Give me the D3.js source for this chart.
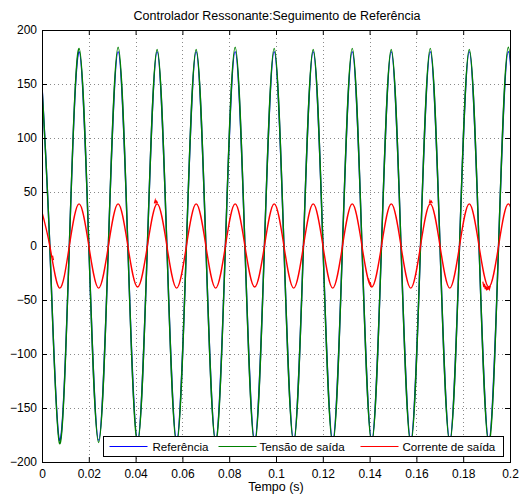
<!DOCTYPE html>
<html>
<head>
<meta charset="utf-8">
<script src="https://cdn.jsdelivr.net/npm/d3@7"></script>
<style>
  body { margin: 0; background: #fff; }
  text { font-family: "Liberation Sans", Arial, Helvetica, sans-serif; font-size: 12px; fill: #000; }
</style>
</head>
<body>
<svg width="519" height="497"></svg>
<script>
const svg = d3.select("svg");
const width = +svg.attr("width");
const height = +svg.attr("height");

// plot box (pixels)
const boxLeft = 42, boxRight = 510, boxTop = 30, boxBottom = 462;

// data: quarter-period samples (peak, zero, trough, zero ...)
const tempo = [-0.00083, 0.00334, 0.00751, 0.01168, 0.01585, 0.02002, 0.02419, 0.02836,
  0.03253, 0.03669, 0.04086, 0.04503, 0.04920, 0.05337, 0.05754, 0.06171,
  0.06588, 0.07004, 0.07421, 0.07838, 0.08255, 0.08672, 0.09089, 0.09506,
  0.09923, 0.10339, 0.10756, 0.11173, 0.11590, 0.12007, 0.12424, 0.12841,
  0.13258, 0.13674, 0.14091, 0.14508, 0.14925, 0.15342, 0.15759, 0.16176,
  0.16593, 0.17009, 0.17426, 0.17843, 0.18260, 0.18677, 0.19094, 0.19511,
  0.19928, 0.20344];

const referencia = [180, 0, -180, 0, 180, 0, -180, 0,
  180, 0, -180, 0, 180, 0, -180, 0,
  180, 0, -180, 0, 180, 0, -180, 0,
  180, 0, -180, 0, 180, 0, -180, 0,
  180, 0, -180, 0, 180, 0, -180, 0,
  180, 0, -180, 0, 180, 0, -180, 0,
  180, 0];

const tensao = [178, 0, -183, 0, 183, 0, -182, 0,
  184, 0, -182, 0, 182, 0, -183, 0,
  182, 0, -182, 0, 184, 0, -183, 0,
  183, 0, -182, 0, 182, 0, -183, 0,
  183, 0, -182, 0, 182, 0, -183, 0,
  183, 0, -182, 0, 182, 0, -183, 0,
  184, 0];

const corrente = [38, 0, -39, 0, 39, 0, -39, 0,
  39, 0, -38, 0, 39, 0, -39, 0,
  39, 0, -39, 0, 39, 0, -38, 0,
  39, 0, -39, 0, 39, 0, -39, 0,
  39, 0, -38, 0, 39, 0, -39, 0,
  39, 0, -39, 0, 39, 0, -38, 0,
  39, 0];

// small noisy bits on the current trace
const ruido = [
  [[0.0480, 39.5], [0.0484, 42.5], [0.0487, 40], [0.0490, 41.5], [0.0494, 39.5]],
  [[0.1655, 39.5], [0.1658, 42], [0.1661, 40.5], [0.1664, 41.5], [0.1668, 39.5]],
  [[0.1884, -33], [0.1888, -38], [0.1891, -35], [0.1894, -40], [0.1897, -37], [0.1900, -41],
   [0.1903, -38], [0.1906, -40.5], [0.1909, -37.5], [0.1912, -40], [0.1916, -37]],
  [[0.1395, -30], [0.1399, -33.5], [0.1403, -34], [0.1407, -37.5]],
  [[0.0045, -9], [0.0047, -11], [0.0049, -13]]
];

const xTicks = [0, 0.02, 0.04, 0.06, 0.08, 0.1, 0.12, 0.14, 0.16, 0.18, 0.2];
const yTicks = [-200, -150, -100, -50, 0, 50, 100, 150, 200];

const series = [
  { nome: "Referência", valores: referencia, cor: "#0000ff" },
  { nome: "Tensão de saída", valores: tensao, cor: "#008000" },
  { nome: "Corrente de saída", valores: corrente, cor: "#ff0000" }
];

const x = d3.scaleLinear().domain([0, 0.2]).range([boxLeft, boxRight]);
const y = d3.scaleLinear().domain([-200, 200]).range([boxBottom, boxTop]);

svg.append("rect").attr("width", width).attr("height", height).attr("fill", "#fff");

svg.append("defs").append("clipPath").attr("id", "clip")
  .append("rect")
    .attr("x", boxLeft).attr("y", boxTop)
    .attr("width", boxRight - boxLeft).attr("height", boxBottom - boxTop);

// grid
const grid = svg.append("g")
  .attr("stroke", "#8a8a8a")
  .attr("stroke-dasharray", "1,3")
  .attr("stroke-width", 1);
grid.selectAll(".gx").data(xTicks.slice(1, -1)).join("line")
  .attr("x1", d => Math.round(x(d)) + 0.5).attr("x2", d => Math.round(x(d)) + 0.5)
  .attr("y1", boxTop).attr("y2", boxBottom);
grid.selectAll(".gy").data(yTicks.slice(1, -1)).join("line")
  .attr("y1", d => Math.round(y(d)) + 0.5).attr("y2", d => Math.round(y(d)) + 0.5)
  .attr("x1", boxLeft).attr("x2", boxRight);

// curves
const line = d3.line()
  .x((d, i) => x(tempo[i]))
  .y(d => y(d))
  .curve(d3.curveNatural);

const plot = svg.append("g").attr("clip-path", "url(#clip)").attr("fill", "none");
series.forEach(s => {
  plot.append("path")
    .attr("d", line(s.valores))
    .attr("stroke", s.cor)
    .attr("stroke-width", 1.4);
});
const ruidoLine = d3.line().x(d => x(d[0])).y(d => y(d[1]));
ruido.forEach(r => {
  plot.append("path").attr("d", ruidoLine(r)).attr("stroke", "#ff0000").attr("stroke-width", 1.2);
});

// axes, ticks inward on all four sides
const tickLen = 5;
const axisBottom = svg.append("g").attr("transform", `translate(0,${boxBottom})`)
  .call(d3.axisBottom(x).tickValues(xTicks).tickSizeInner(-tickLen).tickSizeOuter(0).tickPadding(7)
    .tickFormat(d3.format("~g")));
const axisTop = svg.append("g").attr("transform", `translate(0,${boxTop})`)
  .call(d3.axisTop(x).tickValues(xTicks).tickSizeInner(-tickLen).tickSizeOuter(0).tickFormat(""));
const axisLeft = svg.append("g").attr("transform", `translate(${boxLeft},0)`)
  .call(d3.axisLeft(y).tickValues(yTicks).tickSizeInner(-tickLen).tickSizeOuter(0).tickPadding(5));
const axisRight = svg.append("g").attr("transform", `translate(${boxRight},0)`)
  .call(d3.axisRight(y).tickValues(yTicks).tickSizeInner(-tickLen).tickSizeOuter(0).tickFormat(""));

[axisBottom, axisTop, axisLeft, axisRight].forEach(a => {
  a.select(".domain").remove();
  a.selectAll("line").attr("stroke", "#000");
  a.selectAll("text").attr("font-size", 12).attr("font-family", null).attr("fill", "#000");
});

svg.append("rect")
  .attr("x", boxLeft + 0.5).attr("y", boxTop + 0.5)
  .attr("width", boxRight - boxLeft).attr("height", boxBottom - boxTop)
  .attr("fill", "none").attr("stroke", "#000").attr("stroke-width", 1);

// title and label
svg.append("text").attr("x", (boxLeft + boxRight) / 2 + 1).attr("y", 20)
  .attr("text-anchor", "middle").style("font-size", "12.5px")
  .text("Controlador Ressonante:Seguimento de Referência");
svg.append("text").attr("x", (boxLeft + boxRight) / 2).attr("y", 491)
  .attr("text-anchor", "middle").style("font-size", "12.5px").text("Tempo (s)");

// legend
const legend = svg.append("g").attr("transform", "translate(103.5,436.5)");
legend.append("rect").attr("width", 400).attr("height", 20)
  .attr("fill", "#fff").attr("stroke", "#000");
const legX = [[6, 44, 49], [115, 153, 156], [257, 295, 299]];
series.forEach((s, i) => {
  legend.append("line")
    .attr("x1", legX[i][0]).attr("x2", legX[i][1])
    .attr("y1", 10).attr("y2", 10)
    .attr("stroke", s.cor).attr("stroke-width", 1);
  legend.append("text").attr("x", legX[i][2]).attr("y", 14.5)
    .style("font-size", "11.6px").text(s.nome);
});
</script>
</body>
</html>
